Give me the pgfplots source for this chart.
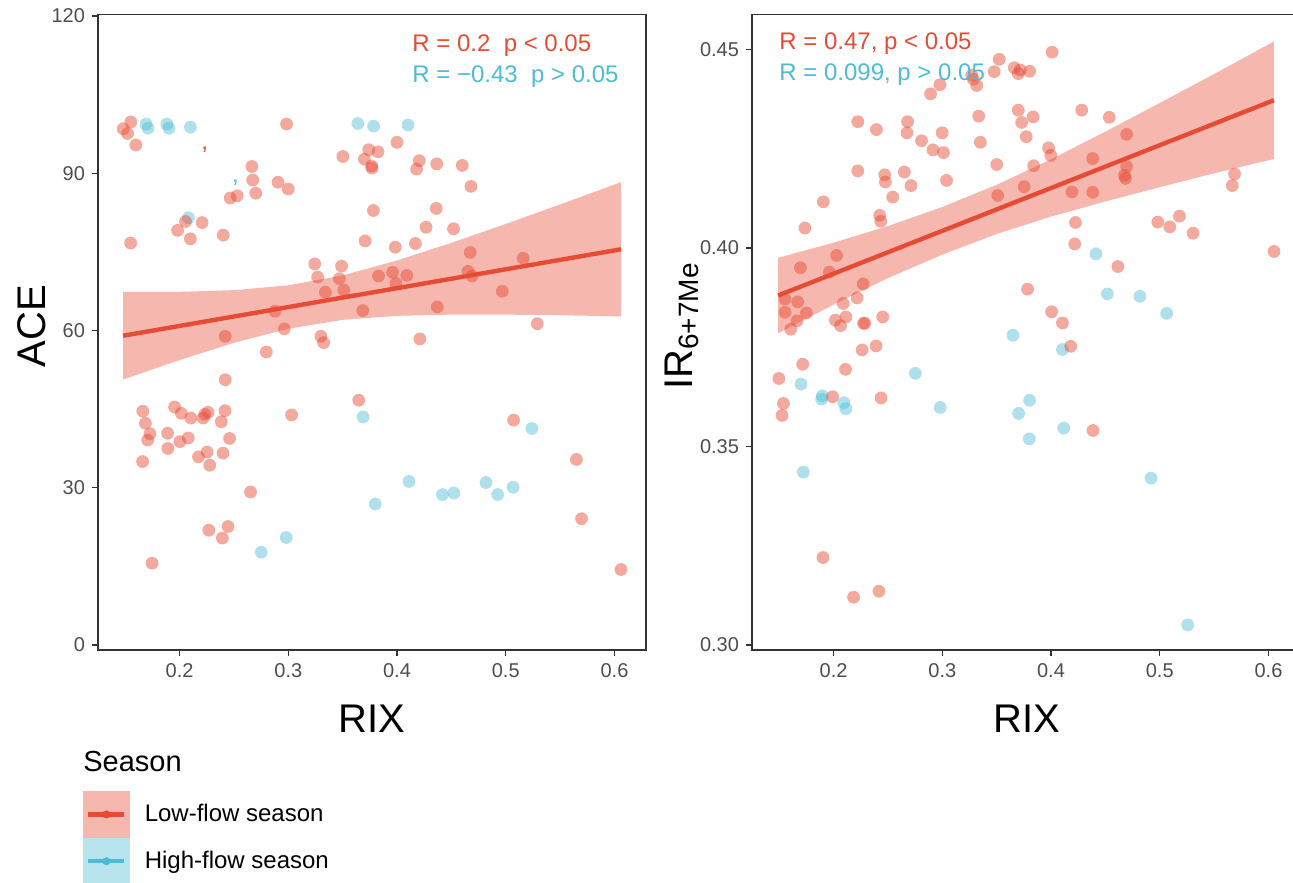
\documentclass[border=0pt]{standalone}
\usepackage{pgfplots}
\pgfplotsset{compat=1.18}
\usepackage{fontspec}
\setmainfont{Liberation Sans}
\definecolor{npgred}{HTML}{E64B35}
\definecolor{npgblue}{HTML}{4DBBD5}
\definecolor{axcol}{HTML}{333333}
\definecolor{tickcol}{HTML}{4D4D4D}
\definecolor{keyred}{HTML}{F5B7AE}
\definecolor{keyblue}{HTML}{B8E4EE}
\pgfplotsset{
  panel/.style={
    scale only axis, width=274pt, height=317.75pt,
    xmin=0.125, xmax=0.629,
    axis line style={axcol, line width=0.7pt},
    tick style={axcol, line width=0.7pt},
    tick align=outside, major tick length=3pt,
    xtick pos=left, ytick pos=left,
    xtick={0.2,0.3,0.4,0.5,0.6},
    xticklabels={0.2,0.3,0.4,0.5,0.6},
    tick label style={font=\fontsize{10}{12}\selectfont, text=tickcol},
  },
  ptred/.style={only marks, mark=*, mark size=3.2pt, forget plot, mark options={fill=npgred, fill opacity=0.48, draw opacity=0}},
  ptblue/.style={only marks, mark=*, mark size=3.2pt, forget plot, mark options={fill=npgblue, fill opacity=0.45, draw opacity=0}},
  band/.style={fill=npgred, fill opacity=0.4, draw=none, forget plot},
  fitline/.style={npgred, line width=2.2pt, forget plot},
}
\begin{document}
\begin{tikzpicture}
% ---------------- left panel: ACE ----------------
\begin{axis}[panel, at={(49pt,116pt)}, anchor=south west,
  ymin=-0.96, ymax=120.3,
  ytick={0,30,60,90,120}, yticklabels={0,30,60,90,120},
  legend style={at={(-0.02737,-0.2219)}, anchor=north west, draw=none, fill=none,
    inner sep=0pt, outer sep=0pt, row sep=0pt, column sep=7.5pt,
    font=\fontsize{12}{14}\selectfont, nodes={inner sep=0pt}},
  legend cell align=left]
\addplot[ptblue] coordinates {
(0.1692,99.4)(0.1710,98.6)(0.1884,99.4)(0.1902,98.6)(0.2100,98.8)
(0.3639,99.5)(0.3785,99.0)(0.4102,99.2)(0.2082,81.5)(0.3688,43.5)
(0.5240,41.3)(0.2751,17.7)(0.2981,20.5)(0.3800,26.9)(0.4110,31.2)
(0.4418,28.7)(0.4523,29.0)(0.4818,31.0)(0.4926,28.7)(0.5068,30.1)
};
\addplot[ptred] coordinates {
(0.1552,99.8)(0.1482,98.5)(0.1522,97.6)(0.1598,95.4)(0.2984,99.4)
(0.3502,93.2)(0.2665,91.3)(0.2673,88.7)(0.2701,86.2)(0.2905,88.3)
(0.3000,87.0)(0.2466,85.3)(0.2530,85.7)(0.2055,80.8)(0.1982,79.1)
(0.2100,77.5)(0.2207,80.6)(0.2402,78.2)(0.1550,76.7)(0.3243,72.7)
(0.3490,72.3)(0.3270,70.2)(0.3469,69.9)(0.3341,67.3)(0.3510,67.7)
(0.4000,95.9)(0.3740,94.5)(0.3825,94.1)(0.3700,92.7)(0.3766,91.4)
(0.3770,91.0)(0.4205,92.4)(0.4180,90.8)(0.4365,91.8)(0.4600,91.5)
(0.4680,87.5)(0.3783,82.9)(0.4361,83.3)(0.4267,79.7)(0.4520,79.4)
(0.3707,77.1)(0.3984,75.9)(0.4169,76.6)(0.4673,74.9)(0.5160,73.8)
(0.3830,70.4)(0.3959,71.1)(0.4090,70.5)(0.3990,69.0)(0.4653,71.3)
(0.4690,70.4)(0.4968,67.5)
(0.3685,63.8)(0.4370,64.5)(0.5290,61.3)(0.4210,58.4)(0.3648,46.7)
(0.5072,42.9)(0.5650,35.4)
(0.2878,63.7)(0.2963,60.3)(0.2420,58.9)(0.2798,55.9)(0.3300,58.9)
(0.3325,57.7)(0.2420,50.6)(0.1662,44.6)(0.1686,42.3)(0.1728,40.3)
(0.1707,39.1)(0.1954,45.4)(0.2016,44.2)(0.2104,43.3)(0.2217,43.3)
(0.2232,44.0)(0.2262,44.4)(0.2418,44.7)(0.2384,42.6)(0.1890,40.4)
(0.2080,39.5)(0.2003,38.8)(0.2460,39.4)(0.1893,37.5)(0.2174,35.9)
(0.2253,36.8)(0.2400,36.6)(0.2277,34.3)(0.1660,35.0)(0.3031,43.9)
(0.2653,29.2)(0.2269,21.9)(0.2446,22.6)(0.2394,20.4)(0.1747,15.6)
(0.5697,24.1)(0.6060,14.4)
};
\addplot[band] coordinates {
(0.148,67.35)(0.2,67.38)(0.25,67.70)(0.3,68.62)(0.35,70.52)(0.4,73.36)
(0.45,76.73)(0.5,80.33)(0.55,84.05)(0.606,88.30)
(0.606,62.70)(0.55,62.91)(0.5,63.03)(0.45,63.03)(0.4,62.80)(0.35,62.04)
(0.3,60.34)(0.25,57.66)(0.2,54.36)(0.148,50.65)
} -- cycle;
\addplot[fitline] coordinates {(0.148,59.0)(0.606,75.5)};
\node[anchor=base, inner sep=0pt, text=npgred, font=\fontsize{12}{14}\selectfont] at (axis cs:0.2231,94.6) {,};
\node[anchor=base, inner sep=0pt, text=npgblue, font=\fontsize{12}{14}\selectfont] at (axis cs:0.2515,88.3) {,};
\addlegendimage{legend image code/.code={
  \fill[keyred] (0pt,-11.5pt) rectangle (23pt,11.5pt);
  \draw[npgred, line width=2.2pt] (2.5pt,0pt) -- (20.5pt,0pt);
  \fill[npgred] (11.5pt,0pt) circle (1.8pt);}}
\addlegendentry{Low-flow season}
\addlegendimage{legend image code/.code={
  \fill[keyblue] (0pt,-11.5pt) rectangle (23pt,11.5pt);
  \draw[npgblue, line width=2.2pt] (2.5pt,0pt) -- (20.5pt,0pt);
  \fill[npgblue] (11.5pt,0pt) circle (1.8pt);}}
\addlegendentry{High-flow season}
\end{axis}
% ---------------- right panel: IR ----------------
\begin{axis}[panel, at={(376pt,116pt)}, anchor=south west,
  ymin=0.2987, ymax=0.4588,
  ytick={0.30,0.35,0.40,0.45}, yticklabels={0.30,0.35,0.40,0.45}]
\addplot[ptblue] coordinates {
(0.1700,0.3657)(0.2752,0.3684)(0.1896,0.3627)(0.1890,0.3619)(0.2094,0.3610)
(0.2113,0.3595)(0.2981,0.3598)(0.4413,0.3985)(0.4518,0.3884)(0.4817,0.3878)
(0.5064,0.3835)(0.3650,0.3780)(0.4105,0.3744)(0.3803,0.3616)(0.3702,0.3583)
(0.4117,0.3546)(0.3800,0.3519)(0.1722,0.3435)(0.4920,0.3420)(0.5257,0.3050)
};
\addplot[ptred] coordinates {
(0.1737,0.4050)(0.1906,0.4116)(0.2223,0.4318)(0.2394,0.4298)(0.2223,0.4194)
(0.2470,0.4184)(0.2477,0.4166)(0.2544,0.4128)(0.2651,0.4191)(0.2712,0.4157)
(0.2424,0.4082)(0.2434,0.4067)(0.2681,0.4318)(0.2675,0.4290)(0.2809,0.4270)
(0.2914,0.4247)(0.3011,0.4240)(0.2999,0.4290)(0.3039,0.4170)(0.2892,0.4388)
(0.2978,0.4411)(0.3286,0.4425)(0.3317,0.4409)(0.3271,0.4435)(0.3524,0.4475)
(0.3478,0.4444)(0.3335,0.4332)(0.3350,0.4266)(0.3500,0.4210)(0.3510,0.4132)
(0.3662,0.4454)(0.3699,0.4439)(0.3717,0.4448)(0.3803,0.4445)(0.4010,0.4493)
(0.3699,0.4347)(0.3730,0.4316)(0.3836,0.4330)(0.3772,0.4280)(0.4282,0.4347)
(0.4536,0.4329)(0.3977,0.4252)(0.3998,0.4233)(0.3840,0.4207)(0.4383,0.4225)
(0.4695,0.4286)(0.4695,0.4205)(0.4676,0.4183)(0.4685,0.4175)(0.3753,0.4154)
(0.4193,0.4141)(0.4383,0.4140)(0.4225,0.4064)(0.4218,0.4010)(0.4982,0.4065)
(0.5092,0.4053)(0.5181,0.4080)(0.5306,0.4037)(0.5688,0.4186)(0.5667,0.4157)
(0.6051,0.3991)
(0.4615,0.3953)(0.3784,0.3896)(0.4005,0.3839)(0.4105,0.3811)(0.4181,0.3752)
(0.4386,0.3540)
(0.1695,0.3950)(0.2028,0.3981)(0.1961,0.3939)(0.2272,0.3909)(0.1554,0.3871)
(0.1670,0.3864)(0.1554,0.3838)(0.1750,0.3836)(0.1664,0.3816)(0.1606,0.3795)
(0.2089,0.3860)(0.2217,0.3874)(0.2016,0.3818)(0.2113,0.3826)(0.2064,0.3804)
(0.2275,0.3810)(0.2287,0.3810)(0.2452,0.3826)(0.2263,0.3743)(0.2391,0.3753)
(0.1716,0.3707)(0.2110,0.3694)(0.1497,0.3671)(0.1991,0.3625)(0.2437,0.3622)
(0.1539,0.3608)(0.1526,0.3578)
(0.1903,0.3220)(0.2184,0.3120)(0.2417,0.3135)
};
\addplot[band] coordinates {
(0.149,0.3975)(0.2,0.4013)(0.25,0.4055)(0.3,0.4103)(0.35,0.4159)(0.4,0.4223)
(0.45,0.4293)(0.5,0.4365)(0.55,0.4438)(0.605,0.4520)
(0.605,0.4224)(0.55,0.4188)(0.5,0.4153)(0.45,0.4117)(0.4,0.4079)(0.35,0.4035)
(0.3,0.3983)(0.25,0.3924)(0.2,0.3857)(0.149,0.3785)
} -- cycle;
\addplot[fitline] coordinates {(0.149,0.3880)(0.605,0.4372)};
\end{axis}
% ---------------- texts ----------------
\begin{scope}[every node/.style={inner sep=0pt}]
\node[anchor=base west, text=npgred, font=\fontsize{12}{14}\selectfont] at (206pt,415.25pt) {R = 0.2\ \ p < 0.05};
\node[anchor=base west, text=npgblue, font=\fontsize{12}{14}\selectfont] at (206pt,399.75pt) {R = −0.43\ \ p > 0.05};
\node[anchor=base west, text=npgred, font=\fontsize{12}{14}\selectfont] at (389.5pt,416.35pt) {R = 0.47, p < 0.05};
\node[anchor=base west, text=npgblue, font=\fontsize{12}{14}\selectfont] at (389.5pt,400.85pt) {R = 0.099, p > 0.05};
\node[rotate=90, anchor=base, font=\fontsize{20}{24}\selectfont] at (22.5pt,278pt) {ACE};
\node[rotate=90, anchor=base, font=\fontsize{20}{24}\selectfont] at (346pt,278pt) {IR\textsubscript{6+7Me}};
\node[anchor=base, font=\fontsize{20}{24}\selectfont] at (186pt,74.5pt) {RIX};
\node[anchor=base, font=\fontsize{20}{24}\selectfont] at (513.5pt,74.5pt) {RIX};
\node[anchor=base west, font=\fontsize{14.5}{17}\selectfont] at (41.5pt,55.15pt) {Season};
\end{scope}
\pgfresetboundingbox
\useasboundingbox (0pt,0pt) rectangle (646.5pt,441pt);
\end{tikzpicture}
\end{document}
